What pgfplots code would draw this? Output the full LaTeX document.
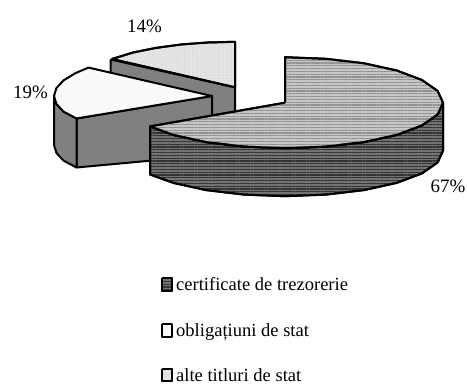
\documentclass[border=0pt]{standalone}
\usepackage{pgfplots}
\pgfplotsset{compat=1.18}
\usepackage{fontspec}
\setmainfont{Liberation Serif}
\usetikzlibrary{patterns.meta}
\definecolor{darkface}{gray}{0.5}
\tikzset{
  edge/.style={black,line width=2bp,line join=round},
  bigtop/.style={edge,preaction={fill=black!22},pattern={Lines[angle=0,distance=2.8bp,line width=1.2bp]},pattern color=black!42},
  bigside/.style={edge,preaction={fill=black!55},pattern={Lines[angle=0,distance=2.8bp,line width=1.2bp]},pattern color=black!80},
  smalltop/.style={edge,preaction={fill=black!10},pattern={Dots[radius=0.45bp,distance=2.6bp]},pattern color=black!22},
  whitetop/.style={edge,fill=white!98!black},
  greyface/.style={edge,fill=darkface},
  lbl/.style={font=\fontsize{18.6}{18.6}\selectfont,anchor=base west,inner sep=0pt},
  pct/.style={font=\fontsize{19}{19}\selectfont,inner sep=0pt},
}
\begin{document}
\begin{tikzpicture}
\begin{axis}[
    width=467bp, height=385bp, scale only axis,
    xmin=0, xmax=467, ymin=0, ymax=385,
    y dir=reverse,
    hide axis, clip=false,
]
\path (axis cs:0,0) rectangle (axis cs:467,385);
% 14% slice: side, then top
\addplot[greyface] coordinates {(110.5,59.5)(235,87.3)(235,135)(110.5,108)(110.5,59.5)};
\addplot[smalltop] coordinates {(235,87.3)(235,41.8)(207.6,42.5)(181,44.5)(156,47.9)(133.4,52.4)(112,59)(235,87.3)};
% 19% slice: front, round side, top
\addplot[greyface] coordinates {(76.5,118.5)(212,96)(212,155)(76.5,167.5)(76.5,118.5)};
\addplot[greyface] coordinates {(54,96)(56.4,103.9)(63.5,111.6)(76.5,118.5)(76.5,167.5)(63.5,160.6)(56.4,152.9)(54,145)(54,96)};
\addplot[whitetop] coordinates {(212,96)(88.5,67.6)(75.2,73.25)(63.5,80.4)(56.4,88.1)(54,96)(56.4,103.9)(63.5,111.6)(76.5,118.5)(212,96)};
% 67% slice: side, then top
\addplot[bigside] coordinates {(443,102.7)(437.6,114.5)(421.8,125.45)(396.7,134.9)(364,142.1)(325.9,146.6)(285,148.2)(244.1,146.6)(206,142.1)(173.3,134.9)(150,126.4)
  (150,174.4)(173.3,182.9)(206,190.1)(244.1,194.6)(285,196.2)(325.9,194.6)(364,190.1)(396.7,182.9)(421.8,173.45)(437.6,162.5)(443,150.7)(443,102.7)};
\addplot[bigtop] coordinates {(285,102.7)(285,57.2)(325.9,58.8)(364,63.3)(396.7,70.5)(421.8,79.95)(437.6,90.9)(443,102.7)(437.6,114.5)(421.8,125.45)(396.7,134.9)(364,142.1)(325.9,146.6)(285,148.2)(244.1,146.6)(206,142.1)(173.3,134.9)(150,126.4)(285,102.7)};
% legend swatches
\addplot[bigside] coordinates {(161.5,278)(172,278)(172,290.5)(161.5,290.5)(161.5,278)};
\addplot[whitetop] coordinates {(161.5,324)(172,324)(172,336.5)(161.5,336.5)(161.5,324)};
\addplot[smalltop] coordinates {(161.5,368.5)(172,368.5)(172,381)(161.5,381)(161.5,368.5)};
\node[pct] at (axis cs:144.5,26) {14\%};
\node[pct] at (axis cs:30.5,92) {19\%};
\node[pct] at (axis cs:448,186) {67\%};
\node[lbl] at (axis cs:176,290.5) {certificate de trezorerie};
\node[lbl] at (axis cs:176,336.5) {obligațiuni de stat};
\node[lbl] at (axis cs:176,381) {alte titluri de stat};
\end{axis}
\end{tikzpicture}
\end{document}
